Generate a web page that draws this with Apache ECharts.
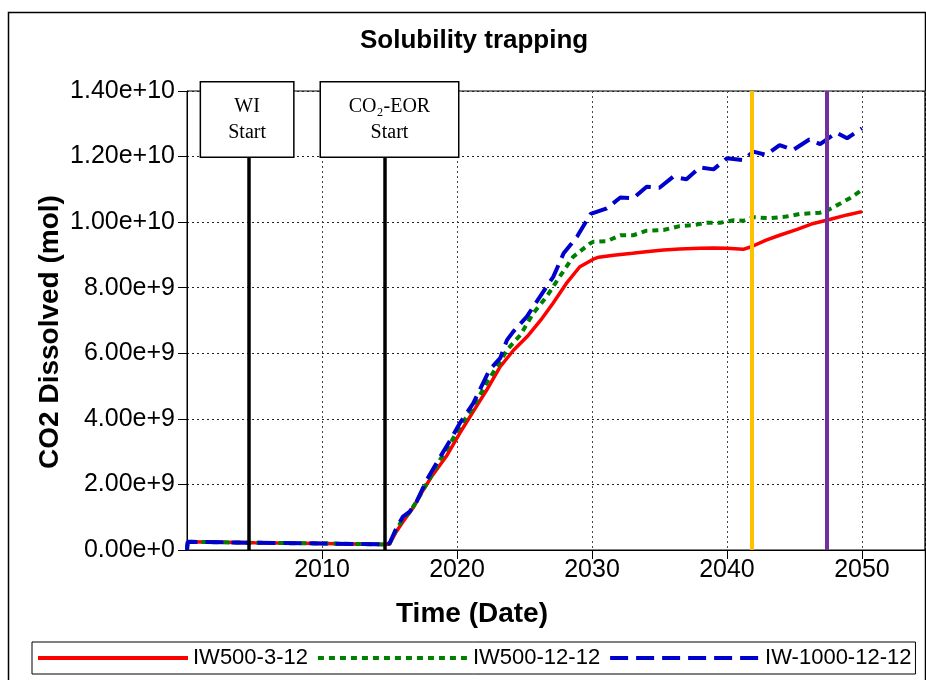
<!DOCTYPE html>
<html>
<head>
<meta charset="utf-8">
<title>Solubility trapping</title>
<script src="https://cdn.jsdelivr.net/npm/echarts@6.0.0/dist/echarts.min.js"></script>
<style>
  html, body { margin: 0; padding: 0; background: #fff; }
  #chart { width: 926px; height: 680px; }
</style>
</head>
<body>
<div id="chart"></div>
<script>
// values are in units of 1e9 mol
const redYears = [2000, 2000.05, 2005, 2010, 2014.65, 2015.0, 2015.5, 2016.0, 2016.8, 2017.5, 2018.2, 2019.2, 2020.2,
  2021.2, 2022.2, 2023.2, 2024.2, 2025.2, 2026.2, 2027.1, 2028.1, 2029.1, 2030.1, 2030.5, 2031.6, 2033.0, 2034.0,
  2035.3, 2036.5, 2038.0, 2039.0, 2040.0, 2041.2, 2041.8, 2042.9, 2043.9, 2045.2, 2046.4, 2047.6, 2048.9, 2050.0];
const redVals = [0, 0.25, 0.22, 0.2, 0.17, 0.18, 0.56, 0.86, 1.32, 1.83, 2.29, 2.85, 3.56,
  4.22, 4.88, 5.59, 6.1, 6.51, 7.01, 7.52, 8.13, 8.64, 8.87, 8.93, 8.99, 9.05, 9.1,
  9.15, 9.18, 9.2, 9.21, 9.2, 9.17, 9.25, 9.45, 9.6, 9.78, 9.96, 10.08, 10.22, 10.32];

const greenYears = [2000, 2000.05, 2005, 2010, 2014.65, 2015.0, 2015.5, 2016.0, 2016.5, 2017.0, 2017.8, 2018.7, 2019.5,
  2020.2, 2021.2, 2022.2, 2023.2, 2023.7, 2024.7, 2025.65, 2026.64, 2027.6, 2028.6, 2029.85, 2030.1, 2031.1, 2032.1,
  2033.06, 2034.05, 2035.3, 2036.5, 2037.5, 2038.5, 2039.5, 2040.5, 2041.2, 2041.95, 2043.2, 2044.4, 2045.4, 2046.9,
  2047.5, 2048.4, 2049.1, 2050.0];
const greenVals = [0, 0.25, 0.22, 0.2, 0.17, 0.19, 0.62, 0.95, 1.15, 1.48, 2.05, 2.72, 3.25,
  3.75, 4.35, 5.1, 5.75, 6.1, 6.56, 7.22, 7.73, 8.33, 8.94, 9.35, 9.4, 9.42, 9.6,
  9.6, 9.74, 9.76, 9.88, 9.91, 9.98, 9.98, 10.06, 10.04, 10.15, 10.12, 10.17, 10.25, 10.29,
  10.37, 10.57, 10.73, 10.98];

const blueYears = [2000, 2000.05, 2005, 2010, 2014.65, 2015.0, 2015.5, 2016.0, 2016.5, 2017.0, 2017.75, 2018.7, 2019.5,
  2020.2, 2021.2, 2022.4, 2023.2, 2023.7, 2024.17, 2025.16, 2026.15, 2027.13, 2027.9, 2028.9, 2029.9, 2031.1, 2032.1,
  2033.06, 2034.05, 2035.0, 2036.0, 2037.0, 2038.0, 2039.0, 2040.0, 2041.2, 2041.95, 2042.9, 2043.9, 2044.9, 2046.1,
  2046.9, 2048.1, 2048.9, 2050.0];
const blueVals = [0, 0.25, 0.22, 0.2, 0.17, 0.2, 0.66, 1.02, 1.17, 1.47, 2.13, 2.8, 3.35,
  3.86, 4.47, 5.49, 5.85, 6.4, 6.66, 7.11, 7.73, 8.33, 9.05, 9.56, 10.25, 10.42, 10.75,
  10.73, 11.08, 11.05, 11.38, 11.31, 11.67, 11.61, 11.95, 11.89, 12.15, 12.05, 12.35, 12.2, 12.52,
  12.38, 12.73, 12.56, 12.86];

const seriesNames = ['IW500-3-12', 'IW500-12-12', 'IW-1000-12-12'];
const yTicks = [0, 2, 4, 6, 8, 10, 12, 14];
const xTicks = [2010, 2020, 2030, 2040, 2050];

// event lines
const wiStart = 2004.6;
const eorStart = 2014.63;
const orangeYear = 2041.85;
const purpleYear = 2047.4;
const boxBase = 12;

const sans = '"Liberation Sans", Arial, sans-serif';
const serif = '"Liberation Serif", "Times New Roman", serif';

const pairs = (xs, ys) => xs.map((x, i) => [x, ys[i]]);

const boxLabel = (text, w, dx) => ({
    show: true,
    position: 'end',
    distance: 0,
    offset: [dx, 0],
    formatter: text,
    color: '#000',
    fontFamily: serif,
    fontSize: 20,
    lineHeight: 26,
    align: 'center',
    width: w,
    padding: [11, 0, 11, 0],
    backgroundColor: '#fff',
    borderColor: '#000',
    borderWidth: 1.5,
});

const chart = echarts.init(document.getElementById('chart'), null, { renderer: 'canvas' });

chart.setOption({
    animation: false,
    backgroundColor: '#fff',
    title: {
        text: 'Solubility trapping',
        left: 360,
        top: 28,
        padding: 0,
        textStyle: { fontFamily: sans, fontSize: 26, fontWeight: 'bold', color: '#000' },
    },
    grid: { left: 187, top: 91, right: 1, bottom: 130, show: true, borderColor: '#000', borderWidth: 1, outerBoundsMode: 'none' },
    legend: {
        left: 32,
        top: 642,
        width: 890,
        padding: [5, 4],
        itemGap: 8,
        itemWidth: 150,
        itemHeight: 6,
        borderColor: '#000',
        borderWidth: 1,
        itemStyle: { opacity: 0 },
        lineStyle: { width: 4 },
        textStyle: { fontFamily: sans, fontSize: 22, color: '#000' },
        data: seriesNames,
    },
    xAxis: {
        type: 'value',
        min: 2000,
        max: 2054.67,
        interval: 10,
        axisLine: { lineStyle: { color: '#000', width: 1 } },
        axisTick: { show: true, inside: false, length: 9, lineStyle: { color: '#000' } },
        axisLabel: {
            margin: 8,
            color: '#000',
            fontFamily: sans,
            fontSize: 25,
            showMinLabel: false,
            showMaxLabel: false,
            formatter: (v) => (xTicks.includes(v) ? String(v) : ''),
        },
        splitLine: { show: true, lineStyle: { color: '#444', type: [2, 3], width: 1 } },
    },
    yAxis: {
        type: 'value',
        min: yTicks[0],
        max: yTicks[yTicks.length - 1],
        interval: 2,
        axisLine: { show: true, lineStyle: { color: '#000', width: 1 } },
        axisTick: { show: true, inside: false, length: 9, lineStyle: { color: '#000' } },
        axisLabel: {
            margin: 12,
            color: '#000',
            fontFamily: sans,
            fontSize: 25,
            formatter: (v) => (v * 1e9).toExponential(2),
        },
        splitLine: { show: true, lineStyle: { color: '#222', type: [2, 3], width: 1 } },
    },
    graphic: [
        { type: 'rect', silent: true, z: -1, shape: { x: 8.5, y: 12.5, width: 917, height: 720 }, style: { fill: null, stroke: '#000', lineWidth: 1.5 } },
        { type: 'text', silent: true, x: 472, y: 614, style: { text: 'Time (Date)', fontFamily: sans, fontSize: 28, fontWeight: 'bold', fill: '#000', align: 'center', verticalAlign: 'middle' } },
        { type: 'text', silent: true, x: 50, y: 332, rotation: Math.PI / 2, style: { text: 'CO2 Dissolved (mol)', fontFamily: sans, fontSize: 28, fontWeight: 'bold', fill: '#000', align: 'center', verticalAlign: 'middle' } },
    ],
    series: [
        {
            name: seriesNames[0],
            type: 'line',
            symbol: 'none',
            data: pairs(redYears, redVals),
            lineStyle: { color: '#ff0000', width: 3.5 },
            itemStyle: { color: '#ff0000' },
        },
        {
            name: seriesNames[1],
            type: 'line',
            symbol: 'none',
            data: pairs(greenYears, greenVals),
            lineStyle: { color: '#008000', width: 4, type: [6, 5] },
            itemStyle: { color: '#008000' },
        },
        {
            name: seriesNames[2],
            type: 'line',
            symbol: 'none',
            data: pairs(blueYears, blueVals),
            lineStyle: { color: '#0000cc', width: 4, type: [18, 8] },
            itemStyle: { color: '#0000cc' },
            markLine: {
                silent: true,
                symbol: 'none',
                z: 5,
                label: { show: false },
                data: [
                    [
                        { coord: [wiStart, 0], lineStyle: { color: '#000', width: 3.5, type: 'solid' }, label: boxLabel('WI\nStart', 92, -2) },
                        { coord: [wiStart, boxBase] },
                    ],
                    [
                        { coord: [eorStart, 0], lineStyle: { color: '#000', width: 3.5, type: 'solid' }, label: boxLabel('CO₂-EOR\nStart', 137, 5) },
                        { coord: [eorStart, boxBase] },
                    ],
                    { xAxis: orangeYear, lineStyle: { color: '#ffc000', width: 4, type: 'solid' } },
                    { xAxis: purpleYear, lineStyle: { color: '#7030a0', width: 4, type: 'solid' } },
                ],
            },
        },
    ],
});
</script>
</body>
</html>
